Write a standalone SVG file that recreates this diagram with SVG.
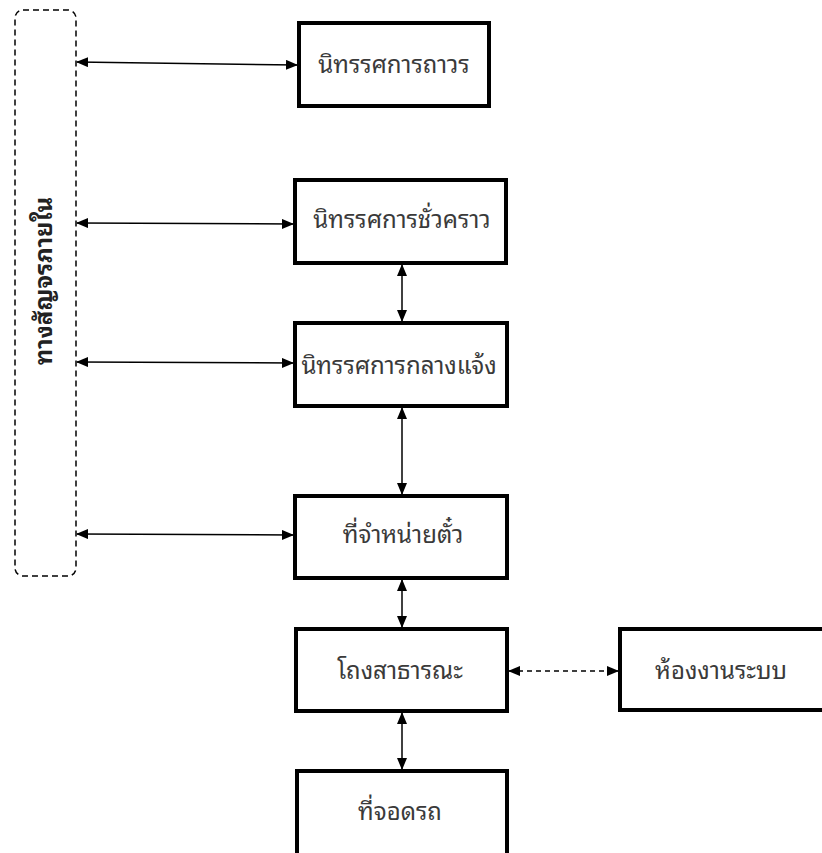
<svg xmlns="http://www.w3.org/2000/svg" width="822" height="853" viewBox="0 0 822 853">
<style>
.box{fill:#fff;stroke:#000;stroke-width:4}
.lbl{font-family:"Noto Sans Thai Looped",Tahoma,"Noto Sans Thai","Noto Sans",sans-serif;font-size:24px;fill:#3a3a3a;text-anchor:middle}
.con{stroke:#000;stroke-width:1.5;fill:none}
.dash{stroke-dasharray:5,4}
</style>
<defs>
<marker id="ah" markerUnits="userSpaceOnUse" markerWidth="12" markerHeight="10" refX="11" refY="5" orient="auto-start-reverse" viewBox="0 0 12 10">
<path d="M0,0 L12,5 L0,10 Z" fill="#000"/>
</marker>
</defs>
<rect width="822" height="853" fill="#fff"/>
<g id="n-circulation">
<rect x="15" y="10" width="61" height="566" rx="8" ry="8" fill="none" stroke="#000" stroke-width="1.5" stroke-dasharray="6,4"/>
<text class="lbl" transform="translate(52,281) rotate(-90)" style="font-weight:bold;fill:#222">ทางสัญจรภายใน</text>
</g>
<g id="n-permanent">
<rect class="box" x="299" y="23" width="190" height="83"/>
<text class="lbl" x="394" y="73">นิทรรศการถาวร</text>
</g>
<g id="n-temporary">
<rect class="box" x="295" y="180" width="211" height="83"/>
<text class="lbl" x="402" y="228">นิทรรศการชั่วคราว</text>
</g>
<g id="n-outdoor">
<rect class="box" x="295" y="323" width="212" height="83"/>
<text class="lbl" x="399" y="374">นิทรรศการกลางแจ้ง</text>
</g>
<g id="n-ticket">
<rect class="box" x="295" y="496" width="212" height="82"/>
<text class="lbl" x="403" y="543">ที่จำหน่ายตั๋ว</text>
</g>
<g id="n-hall">
<rect class="box" x="296" y="629" width="211" height="82"/>
<text class="lbl" x="400" y="679">โถงสาธารณะ</text>
</g>
<g id="n-system">
<rect class="box" x="620" y="629" width="206" height="81"/>
<text class="lbl" x="721" y="679">ห้องงานระบบ</text>
</g>
<g id="n-parking">
<rect class="box" x="297" y="771" width="210" height="86"/>
<text class="lbl" x="400" y="820">ที่จอดรถ</text>
</g>
<g id="connectors">
<line class="con" x1="77" y1="62" x2="297" y2="65" marker-start="url(#ah)" marker-end="url(#ah)"/>
<line class="con" x1="77" y1="223" x2="293" y2="224" marker-start="url(#ah)" marker-end="url(#ah)"/>
<line class="con" x1="77" y1="362" x2="293" y2="363" marker-start="url(#ah)" marker-end="url(#ah)"/>
<line class="con" x1="77" y1="534" x2="293" y2="535" marker-start="url(#ah)" marker-end="url(#ah)"/>
<line class="con" x1="402" y1="265" x2="402" y2="321" marker-start="url(#ah)" marker-end="url(#ah)"/>
<line class="con" x1="402" y1="408" x2="402" y2="494" marker-start="url(#ah)" marker-end="url(#ah)"/>
<line class="con" x1="402" y1="580" x2="402" y2="627" marker-start="url(#ah)" marker-end="url(#ah)"/>
<line class="con" x1="402" y1="713" x2="402" y2="769" marker-start="url(#ah)" marker-end="url(#ah)"/>
<line class="con dash" x1="509" y1="671" x2="618" y2="671" marker-start="url(#ah)" marker-end="url(#ah)"/>
</g>
</svg>
